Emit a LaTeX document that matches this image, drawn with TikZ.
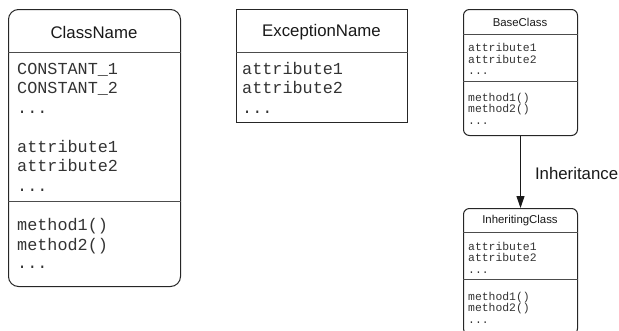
\documentclass[tikz,border=0pt]{standalone}
\usepackage{fontspec}
\setmainfont{Liberation Sans}
\newfontfamily\codefont{Liberation Mono}
\usetikzlibrary{arrows.meta}

\begin{document}
\begin{tikzpicture}[x=1pt,y=-1pt,
  box/.style={draw=black!85, line width=1pt, inner sep=0pt, anchor=north west},
  rule/.style={draw=black!70, line width=1pt},
  bigtitle/.style={font=\fontsize{16.8}{19}\selectfont, text=black!90, inner sep=0pt},
  bigcode/.style={font=\codefont\fontsize{16.8}{19}\selectfont, text=black!80, inner sep=0pt, anchor=base west},
  smalltitle/.style={font=\fontsize{11.4}{13}\selectfont, text=black!90, inner sep=0pt},
  smallcode/.style={font=\codefont\fontsize{11.4}{13}\selectfont, text=black!80, inner sep=0pt, anchor=base west},
  edgelabel/.style={font=\fontsize{16.8}{19}\selectfont, text=black!90, inner sep=0pt, anchor=west}
]
\useasboundingbox (0,0) rectangle (619,330);
\clip (0,0) rectangle (619,330);

% ---- ClassName ----
\node[box, rounded corners=10pt, minimum width=172pt, minimum height=277pt] (cls) at (8,9) {};
\node[bigtitle] (clsname) at (94,32) {ClassName};
\draw[rule] (cls.west |- 0,52) -- (cls.east |- 0,52);
\draw[rule] (cls.west |- 0,201) -- (cls.east |- 0,201);
\node[bigcode] (clsc1) at (17,74) {CONSTANT\_1};
\node[bigcode] (clsc2) at (17,93.5) {CONSTANT\_2};
\node[bigcode] (clsc3) at (17,113) {...};
\node[bigcode] (clsa1) at (17,152) {attribute1};
\node[bigcode] (clsa2) at (17,171.5) {attribute2};
\node[bigcode] (clsa3) at (17,191) {...};
\node[bigcode] (clsm1) at (17,230.5) {method1()};
\node[bigcode] (clsm2) at (17,250) {method2()};
\node[bigcode] (clsm3) at (17,268.5) {...};

% ---- ExceptionName ----
\node[box, minimum width=171pt, minimum height=113pt] (exc) at (236,9) {};
\node[bigtitle] (excname) at (321.5,32) {ExceptionName};
\draw[rule] (exc.west |- 0,52) -- (exc.east |- 0,52);
\node[bigcode] (exca1) at (242,74) {attribute1};
\node[bigcode] (exca2) at (242,93.5) {attribute2};
\node[bigcode] (exca3) at (242,113) {...};

% ---- BaseClass ----
\node[box, rounded corners=6pt, minimum width=114pt, minimum height=126pt] (base) at (463,9) {};
\node[smalltitle] (basename) at (520,22) {BaseClass};
\draw[rule] (base.west |- 0,34) -- (base.east |- 0,34);
\draw[rule] (base.west |- 0,81) -- (base.east |- 0,81);
\node[smallcode] (basea1) at (468,51.5) {attribute1};
\node[smallcode] (basea2) at (468,63) {attribute2};
\node[smallcode] (basea3) at (468,74.5) {...};
\node[smallcode] (basem1) at (468,101) {method1()};
\node[smallcode] (basem2) at (468,112.5) {method2()};
\node[smallcode] (basem3) at (468,124) {...};

% ---- InheritingClass (runs past the lower edge) ----
\node[box, rounded corners=6pt, minimum width=114pt, minimum height=126pt] (inh) at (463,208) {};
\node[smalltitle] (inhname) at (520,220.5) {InheritingClass};
\draw[rule] (inh.west |- 0,232) -- (inh.east |- 0,232);
\draw[rule] (inh.west |- 0,279) -- (inh.east |- 0,279);
\node[smallcode] (inha1) at (468,250) {attribute1};
\node[smallcode] (inha2) at (468,261.5) {attribute2};
\node[smallcode] (inha3) at (468,273) {...};
\node[smallcode] (inhm1) at (468,300) {method1()};
\node[smallcode] (inhm2) at (468,311.5) {method2()};
\node[smallcode] (inhm3) at (468,323) {...};

% ---- inheritance arrow ----
\draw[black!90, line width=1pt, -{Triangle[length=12pt,width=8pt]}]
  (base.south) -- node[edgelabel, pos=0.52, xshift=14pt] (inhlabel) {Inheritance} (inh.north);
\end{tikzpicture}
\end{document}
